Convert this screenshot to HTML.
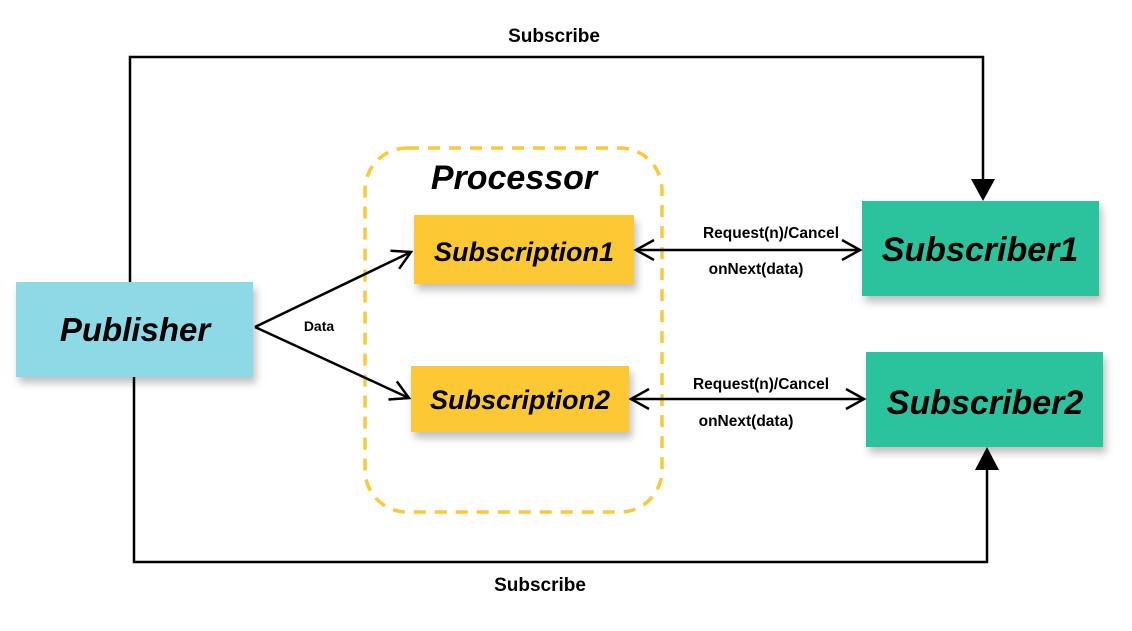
<!DOCTYPE html>
<html><head><style>
body{margin:0;background:#fff;}
svg text{font-family:"Liberation Sans",Arial,sans-serif;font-weight:bold;}
</style></head><body>
<svg width="1132" height="626" viewBox="0 0 1132 626" xmlns="http://www.w3.org/2000/svg">
<defs>
<filter id="sh" x="-10%" y="-10%" width="130%" height="150%"><feDropShadow dx="3" dy="6" stdDeviation="4" flood-color="#000" flood-opacity="0.25"/></filter>
<marker id="oa" markerWidth="22" markerHeight="22" refX="19" refY="11" orient="auto-start-reverse" markerUnits="userSpaceOnUse"><path d="M1,1 L19,11 L1,21" fill="none" stroke="#000" stroke-width="2.5"/></marker>
</defs>
<rect x="365" y="148" width="297" height="364" rx="42" fill="none" stroke="#f9c93a" stroke-width="3.5" stroke-dasharray="12,9"/>
<text x="514" y="189" font-size="34" font-style="italic" text-anchor="middle">Processor</text>
<polyline points="130,282 130,57 983,57 983,182" fill="none" stroke="#000" stroke-width="2.5"/>
<polygon points="971,179 995,179 983,201" fill="#000"/>
<polyline points="134,377 134,562 987,562 987,468" fill="none" stroke="#000" stroke-width="2.5"/>
<polygon points="975,470 999,470 987,447" fill="#000"/>
<text x="554" y="42" font-size="19" text-anchor="middle">Subscribe</text>
<text x="540" y="591" font-size="19" text-anchor="middle">Subscribe</text>
<rect x="16" y="282" width="237" height="95" fill="#8dd9e6" filter="url(#sh)"/>
<text x="135" y="341" font-size="33" font-style="italic" text-anchor="middle">Publisher</text>
<rect x="414" y="215" width="220" height="69" fill="#fcc935" filter="url(#sh)"/>
<text x="524" y="261" font-size="27" font-style="italic" text-anchor="middle">Subscription1</text>
<rect x="411" y="366" width="218" height="66" fill="#fcc935" filter="url(#sh)"/>
<text x="520" y="409" font-size="27" font-style="italic" text-anchor="middle">Subscription2</text>
<rect x="862" y="201" width="237" height="95" fill="#2bc39e" filter="url(#sh)"/>
<text x="980" y="261" font-size="34" font-style="italic" text-anchor="middle">Subscriber1</text>
<rect x="866" y="352" width="237" height="95" fill="#2bc39e" filter="url(#sh)"/>
<text x="985" y="414" font-size="34" font-style="italic" text-anchor="middle">Subscriber2</text>
<line x1="255" y1="327" x2="411" y2="252" stroke="#000" stroke-width="2.5" marker-end="url(#oa)"/>
<line x1="255" y1="327" x2="409" y2="398" stroke="#000" stroke-width="2.5" marker-end="url(#oa)"/>
<text x="319" y="331" font-size="14" text-anchor="middle">Data</text>
<line x1="636" y1="250" x2="860" y2="250" stroke="#000" stroke-width="2.5" marker-start="url(#oa)" marker-end="url(#oa)"/>
<text x="771" y="238" font-size="15.5" text-anchor="middle">Request(n)/Cancel</text>
<text x="756" y="274" font-size="15.5" text-anchor="middle">onNext(data)</text>
<line x1="631" y1="399" x2="864" y2="399" stroke="#000" stroke-width="2.5" marker-start="url(#oa)" marker-end="url(#oa)"/>
<text x="761" y="389" font-size="15.5" text-anchor="middle">Request(n)/Cancel</text>
<text x="746" y="426" font-size="15.5" text-anchor="middle">onNext(data)</text>
</svg>
</body></html>
